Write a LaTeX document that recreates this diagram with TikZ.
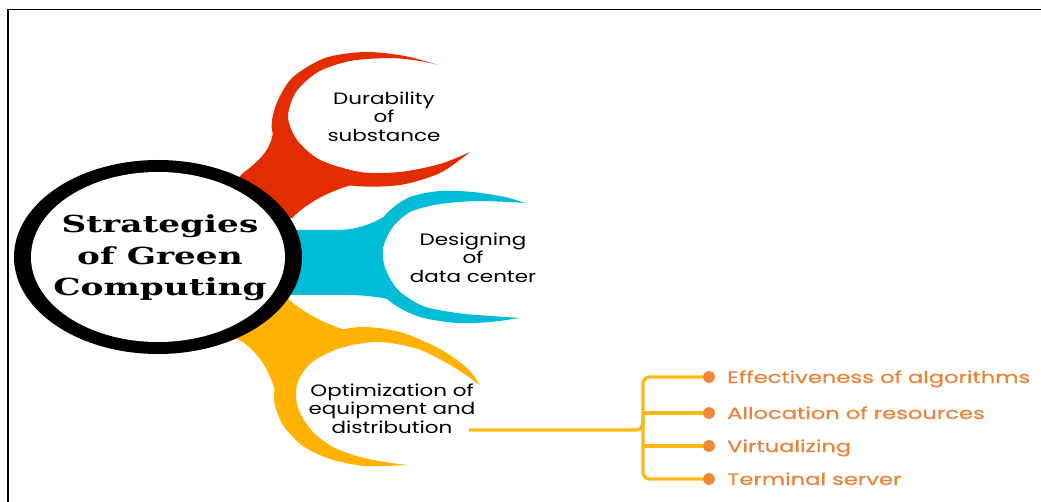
\documentclass[tikz,border=0pt]{standalone}
\usepackage{fontspec}
\usepackage{graphicx}
\setmainfont{Poppins}
\newfontfamily\titlefont{DejaVu Serif}
\newfontfamily\listfont[FakeBold=0.5]{Poppins}
\definecolor{cred}{RGB}{227,45,0}
\definecolor{ccyan}{RGB}{0,188,214}
\definecolor{cyel}{RGB}{255,178,0}
\definecolor{cline}{RGB}{253,184,19}
\definecolor{cdot}{RGB}{240,136,56}
\definecolor{ctext}{RGB}{233,131,58}
\newcommand{\sx}[2]{\scalebox{#1}[1]{#2}}
\begin{document}
\begin{tikzpicture}[x=1pt,y=-1pt,
  petaltext/.style={font=\fontsize{16.5}{18.5}\selectfont, align=center, inner sep=0pt},
  listtext/.style={font=\listfont\fontsize{16.5}{18}\selectfont, text=ctext, anchor=base west, inner sep=0pt},
  conn/.style={draw=cline, line width=3.3pt, rounded corners=7pt},
  dotn/.style={circle, fill=cdot, inner sep=0pt, minimum size=11.5pt},
  frame/.style={draw=black, line width=1.8pt}]
\useasboundingbox (0,0) rectangle (1041,502);

% stems
\fill[cred] (200,220) -- (243,173) .. controls (258,162) and (271,150) .. (273,132)
  -- (300,118) -- (370,180) .. controls (335,188) and (310,200) .. (292,218) -- cycle;
\fill[ccyan] (250,262) -- (285,230) -- (340,230) .. controls (365,229) and (385,218) .. (400,205)
  -- (430,258) -- (405,305) .. controls (390,298) and (370,295) .. (345,295) -- (285,295) -- cycle;
\fill[cyel] (230,290) -- (285,296) .. controls (305,315) and (330,326) .. (355,333)
  -- (330,400) -- (276,395) .. controls (270,368) and (255,348) .. (236,338) -- cycle;

% white interiors
\fill[white] plot[smooth] coordinates {(470,152) (440,164) (400,172) (360,172) (320,160) (297,140) (288,117) (296,92) (318,72) (350,61) (390,58) (420,61) (438,65)} -- cycle;
\fill[white] plot[smooth] coordinates {(520,318) (490,316) (457,313) (423,306) (398,290) (385,268) (383,248) (392,228) (410,212) (440,204) (480,201) (525,203)} -- cycle;
\fill[white] plot[smooth] coordinates {(407,465) (385,462) (360,457) (333,447) (312,431) (298,408) (297,384) (311,363) (340,348) (378,342) (418,349) (452,366) (480,385)} -- cycle;

% crescents
\fill[cred] plot[smooth] coordinates {(438,65) (405,56) (365,52) (325,58) (292,78) (276,105) (272,130) (285,157) (315,177) (355,186) (400,185) (440,173) (470,152)}
  -- plot[smooth] coordinates {(470,152) (440,164) (400,172) (360,172) (320,160) (297,140) (288,117) (296,92) (318,72) (350,61) (390,58) (420,61) (438,65)} -- cycle;
\fill[ccyan] plot[smooth] coordinates {(525,203) (505,197) (473,192) (440,191) (410,197) (388,212) (372,235) (368,258) (374,283) (392,303) (420,317) (457,323) (490,322) (520,318)}
  -- plot[smooth] coordinates {(520,318) (490,316) (457,313) (423,306) (398,290) (385,268) (383,248) (392,228) (410,212) (440,204) (480,201) (525,203)} -- cycle;
\fill[cyel] plot[smooth] coordinates {(480,385) (467,368) (440,349) (400,332) (360,327) (325,335) (295,355) (278,378) (274,400) (283,425) (303,446) (330,459) (365,466) (407,465)}
  -- plot[smooth] coordinates {(407,465) (385,462) (360,457) (333,447) (312,431) (298,408) (297,384) (311,363) (340,348) (378,342) (418,349) (452,366) (480,385)} -- cycle;

% main circle
\fill[black] (158,257) ellipse[x radius=144, y radius=97];
\fill[white] (158,257) ellipse[x radius=127, y radius=85];
\node[inner sep=0pt, font=\titlefont\bfseries\fontsize{23.5}{31.5}\selectfont] (main) at (160,258)
  {\sx{1.46}{\begin{tabular}{@{}c@{}}Strategies\\of Green\\Computing\end{tabular}}};

% petal texts
\node[petaltext] (p1) at (384,119) {\sx{1.3}{\begin{tabular}{@{}c@{}}Durability\\of\\substance\end{tabular}}};
\node[petaltext] (p2) at (473,260) {\sx{1.3}{\begin{tabular}{@{}c@{}}Designing\\of\\data center\end{tabular}}};
\node[petaltext] (p3) at (392,411) {\sx{1.3}{\begin{tabular}{@{}c@{}}Optimization of\\equipment and\\distribution\end{tabular}}};

% connectors
\coordinate (d0) at (469,430);
\coordinate (bj) at (643,430);
\coordinate (bu) at (643,418);
\coordinate (b2) at (643,413);
\coordinate (b3) at (643,446);
\coordinate (b4) at (643,479);
\node[dotn] (e1) at (709,377) {};
\node[dotn] (e2) at (709,413) {};
\node[dotn] (e3) at (709,446) {};
\node[dotn] (e4) at (709,479) {};
\draw[conn] (e1.center) -| (b4) -- (e4.center);
\draw[conn] (b2) -- (e2.center);
\draw[conn] (b3) -- (e3.center);
\draw[conn] (d0) -- (bj) -- (bu);
\node[dotn] at (e1) {};
\node[dotn] at (e2) {};
\node[dotn] at (e3) {};
\node[dotn] at (e4) {};

\node[listtext] (t1) at (727,383) {\sx{1.37}{Effectiveness of algorithms}};
\node[listtext] (t2) at (727,419) {\sx{1.37}{Allocation of resources}};
\node[listtext] (t3) at (727,452) {\sx{1.37}{Virtualizing}};
\node[listtext] (t4) at (727,485) {\sx{1.37}{Terminal server}};

% frame
\coordinate (f1) at (1041,9.5);
\coordinate (f2) at (8,9.5);
\coordinate (f3) at (8,502);
\draw[frame] (f1) -- (f2) -- (f3);
\end{tikzpicture}
\end{document}
